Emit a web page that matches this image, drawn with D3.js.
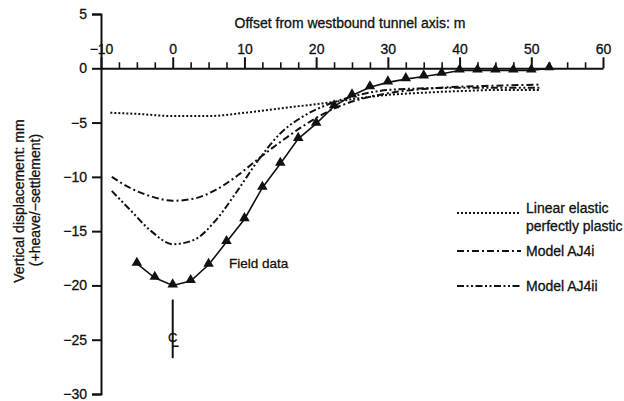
<!DOCTYPE html>
<html>
<head>
<meta charset="utf-8">
<script src="https://cdn.jsdelivr.net/npm/d3@7"></script>
<style>
  body { margin: 0; background: #fff; }
  text { font-family: "Liberation Sans", Arial, sans-serif; fill: #111; stroke: #111; stroke-width: 0.3px; }
</style>
</head>
<body>
<svg id="chart" width="624" height="401"></svg>
<script>
// 測定データ (offset m, displacement mm)
var fieldOffset = [-5, -2.5, 0, 2.5, 5, 7.5, 10, 12.5, 15, 17.5, 20, 22.5, 25, 27.5, 30, 32.5, 35, 37.5, 40, 42.5, 45, 47.5, 50, 52.5];
var fieldDisp   = [-18, -19.3, -20, -19.6, -18.1, -16, -13.9, -11, -8.8, -6.5, -5.1, -3.5, -2.5, -1.75, -1.3, -1.0, -0.75, -0.5, -0.2, -0.2, -0.2, -0.2, -0.2, 0];

// 解析結果
var lepOffset = [-8.7, -5, 0, 5, 10, 15, 20, 22.5, 25, 30, 35, 40, 45, 51.3];
var lepDisp   = [-4.1, -4.2, -4.4, -4.4, -4.1, -3.7, -3.3, -3.1, -2.85, -2.45, -2.25, -2.1, -2.0, -2.0];

var aj4iOffset = [-8.5, -6, -3, 0, 3, 6, 9, 12, 15, 18, 21, 24, 27, 30, 35, 40, 45, 51.3];
var aj4iDisp   = [-10.0, -11.0, -11.8, -12.2, -12.0, -11.2, -9.9, -8.3, -6.8, -5.4, -4.2, -3.3, -2.7, -2.3, -1.9, -1.7, -1.6, -1.5];

var aj4iiOffset = [-8.5, -6, -3, 0, 3, 6, 9, 12, 15, 18, 21, 24, 27, 30, 35, 40, 45, 51.3];
var aj4iiDisp   = [-11.3, -13.0, -15.0, -16.2, -15.8, -14.0, -11.3, -8.4, -6.0, -4.5, -3.5, -2.8, -2.3, -2.0, -1.85, -1.8, -1.8, -1.8];

var xTicks = [-10, 0, 10, 20, 30, 40, 50, 60];
var yTicks = [5, 0, -5, -10, -15, -20, -25, -30];

var svg = d3.select("#chart");

var x = d3.scaleLinear().domain([-10, 60]).range([101, 603]);
var y = d3.scaleLinear().domain([-30, 5]).range([394, 14]);

function zip(xs, ys) { return xs.map(function(v, i) { return [v, ys[i]]; }); }
function minus(d) { return d < 0 ? "\u2212" + (-d) : d; }

// y軸
var yAxis = svg.append("g")
    .attr("transform", "translate(" + x(-10) + ",0)")
    .call(d3.axisLeft(y).tickValues(yTicks).tickSize(9).tickPadding(5).tickFormat(minus));
yAxis.select(".domain").attr("stroke", "#111").attr("stroke-width", 2);
yAxis.selectAll(".tick line").attr("stroke", "#111").attr("stroke-width", 2);
yAxis.selectAll("text").attr("font-size", 14).style("font-family", "Liberation Sans, Arial, sans-serif").attr("fill", "#111");

// x軸 (0の線上、目盛は上向き)
var minorTicks = d3.range(-7.5, 60, 2.5).filter(function(d) { return d % 10 !== 0; });
var xAxisMinor = svg.append("g")
    .attr("transform", "translate(0," + y(0) + ")")
    .call(d3.axisTop(x).tickValues(minorTicks).tickSize(6).tickFormat(""));
xAxisMinor.select(".domain").remove();
xAxisMinor.selectAll(".tick line").attr("stroke", "#111").attr("stroke-width", 1.6);

var xAxis = svg.append("g")
    .attr("transform", "translate(0," + y(0) + ")")
    .call(d3.axisTop(x).tickValues(xTicks).tickSize(11).tickSizeOuter(0).tickPadding(3).tickFormat(minus));
xAxis.select(".domain").attr("stroke", "#111").attr("stroke-width", 2);
xAxis.selectAll(".tick line").attr("stroke", "#111").attr("stroke-width", 2);
xAxis.selectAll("text").attr("font-size", 14).style("font-family", "Liberation Sans, Arial, sans-serif").attr("fill", "#111");

// 軸タイトル
svg.append("text")
    .attr("x", 350).attr("y", 28)
    .attr("text-anchor", "middle")
    .attr("font-size", 14)
    .text("Offset from westbound tunnel axis: m");

svg.append("text")
    .attr("transform", "translate(24,201) rotate(-90)")
    .attr("text-anchor", "middle")
    .attr("font-size", 14)
    .text("Vertical displacement: mm");
svg.append("text")
    .attr("transform", "translate(40,200) rotate(-90)")
    .attr("text-anchor", "middle")
    .attr("font-size", 14)
    .text("(+heave/\u2212settlement)");

// 線
var smooth = d3.line()
    .x(function(d) { return x(d[0]); })
    .y(function(d) { return y(d[1]); })
    .curve(d3.curveMonotoneX);
var straight = d3.line()
    .x(function(d) { return x(d[0]); })
    .y(function(d) { return y(d[1]); });

var styles = {
  lep:   { dash: "2,2",               width: 2 },
  aj4i:  { dash: "7,3,2,3",           width: 2 },
  aj4ii: { dash: "7,2.5,2,2.5,2,2.5", width: 2 }
};

svg.append("path").datum(zip(lepOffset, lepDisp))
    .attr("d", smooth).attr("fill", "none").attr("stroke", "#111")
    .attr("stroke-width", styles.lep.width).attr("stroke-dasharray", styles.lep.dash);
svg.append("path").datum(zip(aj4iOffset, aj4iDisp))
    .attr("d", smooth).attr("fill", "none").attr("stroke", "#111")
    .attr("stroke-width", styles.aj4i.width).attr("stroke-dasharray", styles.aj4i.dash);
svg.append("path").datum(zip(aj4iiOffset, aj4iiDisp))
    .attr("d", smooth).attr("fill", "none").attr("stroke", "#111")
    .attr("stroke-width", styles.aj4ii.width).attr("stroke-dasharray", styles.aj4ii.dash);

var field = zip(fieldOffset, fieldDisp);
svg.append("path").datum(field)
    .attr("d", straight).attr("fill", "none").attr("stroke", "#111").attr("stroke-width", 1.6);
svg.append("g").selectAll("path")
    .data(field)
    .enter().append("path")
    .attr("d", d3.symbol().type(d3.symbolTriangle).size(48))
    .attr("transform", function(d) { return "translate(" + x(d[0]) + "," + (y(d[1]) - 1) + ")"; })
    .attr("fill", "#111");

svg.append("text")
    .attr("x", 229).attr("y", 268)
    .attr("font-size", 13.5)
    .text("Field data");

// トンネル中心線
svg.append("line")
    .attr("x1", x(0)).attr("x2", x(0))
    .attr("y1", y(-21.3)).attr("y2", y(-26.7))
    .attr("stroke", "#111").attr("stroke-width", 2);
svg.append("text")
    .attr("x", x(0)).attr("y", y(-25.2))
    .attr("text-anchor", "middle")
    .attr("font-size", 13)
    .text("C");
svg.append("line")
    .attr("x1", x(0)).attr("x2", x(0) + 6)
    .attr("y1", y(-25.6)).attr("y2", y(-25.6))
    .attr("stroke", "#111").attr("stroke-width", 1.5);

// 凡例
var legend = [
  { key: "lep",   lines: ["Linear elastic", "perfectly plastic"], ly: 213, ty: 213 },
  { key: "aj4i",  lines: ["Model AJ4i"],  ly: 251, ty: 256 },
  { key: "aj4ii", lines: ["Model AJ4ii"], ly: 286, ty: 291 }
];
var lg = svg.append("g").selectAll("g").data(legend).enter().append("g");
lg.append("line")
    .attr("x1", 457).attr("x2", 521)
    .attr("y1", function(d) { return d.ly; }).attr("y2", function(d) { return d.ly; })
    .attr("stroke", "#111")
    .attr("stroke-width", function(d) { return styles[d.key].width; })
    .attr("stroke-dasharray", function(d) { return styles[d.key].dash; });
lg.each(function(d) {
  var g = d3.select(this);
  d.lines.forEach(function(t, i) {
    g.append("text")
        .attr("x", 526).attr("y", d.ty + i * 18)
        .attr("font-size", 14)
        .text(t);
  });
});
</script>
</body>
</html>
